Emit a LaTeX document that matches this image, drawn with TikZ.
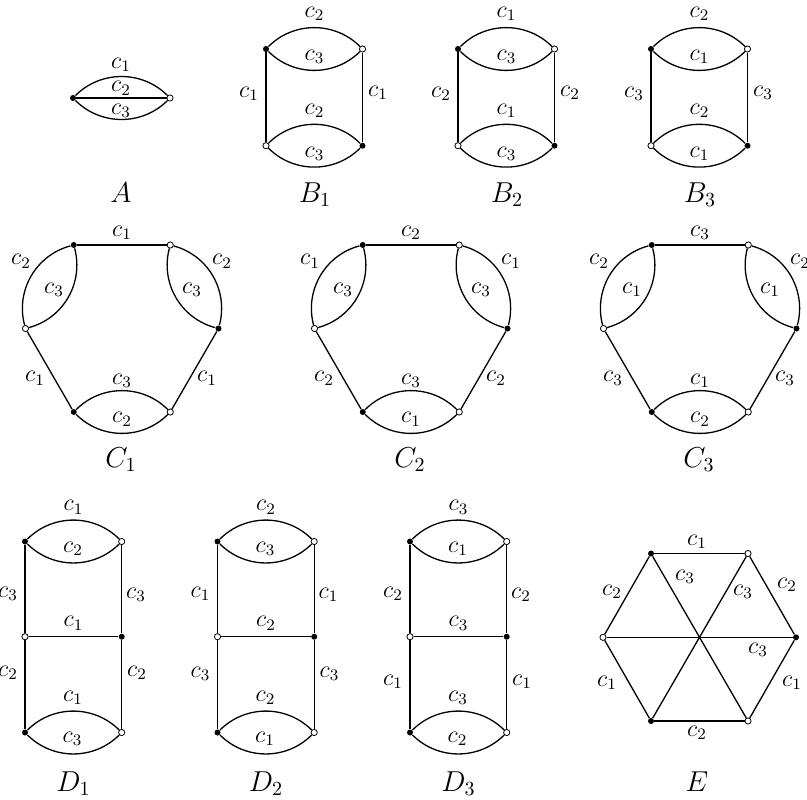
\documentclass[tikz,border=0pt]{standalone}
\begin{document}
\begin{tikzpicture}[x=0.5pt,y=-0.5pt,
  bv/.style={circle,fill=black,inner sep=0pt,minimum size=3pt},
  wv/.style={circle,draw=black,line width=0.4pt,fill=white,inner sep=0pt,minimum size=3.1pt},
  lab/.style={inner sep=0pt,font=\fontsize{12}{14}\selectfont},
  gname/.style={anchor=base,inner sep=0pt,font=\fontsize{14.4}{17}\selectfont},
  ln/.style={line width=0.65pt}]
\useasboundingbox (0,0) rectangle (807,799);

% ---------- A ----------
\node[bv] (Aa) at (73,98) {};
\node[wv] (Ab) at (170,98) {};
\draw[ln] (Aa) to[bend left=45] (Ab);
\draw[ln] (Aa) -- (Ab);
\draw[ln] (Aa) to[bend right=45] (Ab);
\node[lab] (Al1) at (121,65) {$c_1$};
\node[lab] (Al2) at (121,88.5) {$c_2$};
\node[lab] (Al3) at (121,111) {$c_3$};
\node[gname] (An) at (121,202) {$A$};

% ---------- B ----------
\foreach \xl/\n/\a/\b/\s in {266/1/2/3/1, 458/2/1/3/2, 651/3/2/1/3}{
  \node[bv] (B\n tl) at (\xl,49) {};
  \node[wv] (B\n tr) at (\xl+96.5,49) {};
  \node[wv] (B\n bl) at (\xl,145.7) {};
  \node[bv] (B\n br) at (\xl+96.5,145.7) {};
  \draw[ln] (B\n tl) to[bend left=45] (B\n tr);
  \draw[ln] (B\n tl) to[bend right=45] (B\n tr);
  \draw[ln] (B\n bl) to[bend left=45] (B\n br);
  \draw[ln] (B\n bl) to[bend right=45] (B\n br);
  \draw[ln] (B\n tl) -- (B\n bl);
  \draw[ln] (B\n tr) -- (B\n br);
  \node[lab] (B\n l1) at (\xl+48.5,14) {$c_\a$};
  \node[lab] (B\n l2) at (\xl+48.5,57) {$c_\b$};
  \node[lab] (B\n l3) at (\xl-17,94) {$c_\s$};
  \node[lab] (B\n l4) at (\xl+112,93) {$c_\s$};
  \node[lab] (B\n l5) at (\xl+48.5,111) {$c_\a$};
  \node[lab] (B\n l6) at (\xl+48.5,154) {$c_\b$};
  \node[gname] (B\n name) at (\xl+49,202) {$B_\n$};
}

% ---------- C ----------
\foreach \cx/\n/\a/\b/\c in {122/1/1/2/3, 411/2/2/1/3, 700/3/3/2/1}{
  \node[bv] (C\n tl) at (\cx-48.25,245) {};
  \node[wv] (C\n tr) at (\cx+48.25,245) {};
  \node[wv] (C\n l) at (\cx-96.5,328.5) {};
  \node[bv] (C\n r) at (\cx+96.5,328.5) {};
  \node[bv] (C\n bl) at (\cx-48.25,412) {};
  \node[wv] (C\n br) at (\cx+48.25,412) {};
  \draw[ln] (C\n tl) -- (C\n tr);
  \draw[ln] (C\n tl) to[bend right=45] (C\n l);
  \draw[ln] (C\n tl) to[bend left=45] (C\n l);
  \draw[ln] (C\n tr) to[bend left=45] (C\n r);
  \draw[ln] (C\n tr) to[bend right=45] (C\n r);
  \draw[ln] (C\n bl) to[bend left=45] (C\n br);
  \draw[ln] (C\n bl) to[bend right=45] (C\n br);
  \draw[ln] (C\n l) -- (C\n bl);
  \draw[ln] (C\n r) -- (C\n br);
  \node[lab] (C\n l1) at (\cx,233) {$c_\a$};
  \node[lab] (C\n l2) at (\cx-101,261.5) {$c_\b$};
  \node[lab] (C\n l3) at (\cx-68,290) {$c_\c$};
  \node[lab] (C\n l4) at (\cx+100,261.5) {$c_\b$};
  \node[lab] (C\n l5) at (\cx+70,290) {$c_\c$};
  \node[lab] (C\n l6) at (\cx-87,378.5) {$c_\a$};
  \node[lab] (C\n l7) at (\cx+85,378.5) {$c_\a$};
  \node[lab] (C\n l8) at (\cx,381) {$c_\c$};
  \node[lab] (C\n l9) at (\cx,419.5) {$c_\b$};
  \node[gname] (C\n name) at (\cx-1,467) {$C_\n$};
}

% ---------- D ----------
\foreach \xl/\n/\a/\b/\c/\yl in {25/1/1/2/3/673, 217.5/2/2/3/1/674, 410/3/3/1/2/682}{
  \node[bv] (D\n tl) at (\xl,541.5) {};
  \node[wv] (D\n tr) at (\xl+96.7,541.5) {};
  \node[wv] (D\n ml) at (\xl,636.7) {};
  \node[bv] (D\n mr) at (\xl+96.7,636.7) {};
  \node[bv] (D\n bl) at (\xl,732.5) {};
  \node[wv] (D\n br) at (\xl+96.7,732.5) {};
  \draw[ln] (D\n tl) to[bend left=45] (D\n tr);
  \draw[ln] (D\n tl) to[bend right=45] (D\n tr);
  \draw[ln] (D\n bl) to[bend left=45] (D\n br);
  \draw[ln] (D\n bl) to[bend right=45] (D\n br);
  \draw[ln] (D\n tl) -- (D\n ml);
  \draw[ln] (D\n ml) -- (D\n bl);
  \draw[ln] (D\n tr) -- (D\n mr);
  \draw[ln] (D\n mr) -- (D\n br);
  \draw[ln] (D\n ml) -- (D\n mr);
  \node[lab] (D\n l1) at (\xl+48.5,507.5) {$c_\a$};
  \node[lab] (D\n l2) at (\xl+48,549) {$c_\b$};
  \node[lab] (D\n l3) at (\xl-17,594) {$c_\c$};
  \node[lab] (D\n l4) at (\xl+111,595) {$c_\c$};
  \node[lab] (D\n l5) at (\xl+48.5,623.5) {$c_\a$};
  \node[lab] (D\n l6) at (\xl-17,\yl) {$c_\b$};
  \node[lab] (D\n l7) at (\xl+112,\yl) {$c_\b$};
  \node[lab] (D\n l8) at (\xl+48,698) {$c_\a$};
  \node[lab] (D\n l9) at (\xl+47.5,739) {$c_\c$};
  \node[gname] (D\n name) at (\xl+48.5,791) {$D_\n$};
}

% ---------- E ----------
\node[bv] (Etl) at (651,553.5) {};
\node[wv] (Etr) at (748,553.5) {};
\node[wv] (El) at (603,637.3) {};
\node[bv] (Er) at (796,637.3) {};
\node[bv] (Ebl) at (651,721) {};
\node[wv] (Ebr) at (748,721) {};
\draw[ln] (Etl) -- (Etr);
\draw[ln] (Etr) -- (Er);
\draw[ln] (Er) -- (Ebr);
\draw[ln] (Ebr) -- (Ebl);
\draw[ln] (Ebl) -- (El);
\draw[ln] (El) -- (Etl);
\draw[ln] (Etl) -- (Ebr);
\draw[ln] (Etr) -- (Ebl);
\draw[ln] (El) -- (Er);
\node[lab] (El1) at (697,542) {$c_1$};
\node[lab] (El2) at (612,592) {$c_2$};
\node[lab] (El3) at (685,577) {$c_3$};
\node[lab] (El4) at (743,592) {$c_3$};
\node[lab] (El5) at (787,585) {$c_2$};
\node[lab] (El6) at (758,650) {$c_3$};
\node[lab] (El7) at (607,683) {$c_1$};
\node[lab] (El8) at (792,683) {$c_1$};
\node[lab] (El9) at (697,733) {$c_2$};
\node[gname] (Ename) at (697,791) {$E$};
\end{tikzpicture}
\end{document}
